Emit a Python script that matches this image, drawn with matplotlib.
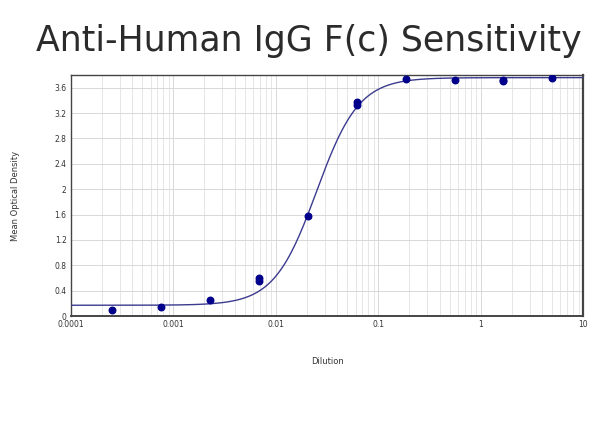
import numpy as np
import matplotlib.pyplot as plt
from matplotlib.ticker import LogLocator

# measured points (dilution, mean OD)
dilution = [0.000254, 0.000762, 0.00229, 0.00686, 0.00686, 0.0206,
            0.0617, 0.0617, 0.185, 0.556, 1.667, 1.667, 5.0]
od = [0.095, 0.14, 0.25, 0.55, 0.60, 1.58,
      3.38, 3.33, 3.74, 3.72, 3.70, 3.73, 3.76]

# 4PL fit parameters
fit_bottom = 0.17
fit_top = 3.76
fit_ec50 = 0.025
fit_hill = 2.1

yticks = [0, 0.4, 0.8, 1.2, 1.6, 2, 2.4, 2.8, 3.2, 3.6]
xticks = [0.0001, 0.001, 0.01, 0.1, 1, 10]
xticklabels = ['0.0001', '0.001', '0.01', '0.1', '1', '10']

fig = plt.figure(figsize=(6, 4.47), dpi=100)
ax = fig.add_axes([0.118, 0.293, 0.854, 0.539])

xx = np.logspace(-4, 1, 400)
yy = fit_top + (fit_bottom - fit_top) / (1 + (xx / fit_ec50) ** fit_hill)
ax.plot(xx, yy, color='#3b3b8f', lw=1.0, zorder=3)
ax.scatter(dilution, od, s=22, color='#00008b', zorder=4)

ax.set_xscale('log')
ax.set_xlim(0.0001, 10)
ax.set_ylim(0, 3.8)
ax.set_xticks(xticks)
ax.set_xticklabels(xticklabels)
ax.set_yticks(yticks)
ax.set_yticklabels([str(t) for t in yticks])
ax.xaxis.set_minor_locator(LogLocator(base=10, subs=np.arange(2, 10), numticks=20))
ax.tick_params(which='both', length=0, labelsize=5.5, colors='#333333', pad=3)
ax.grid(True, which='major', color='#d8d8d8', lw=0.7)
ax.grid(True, which='minor', axis='x', color='#e2e2e2', lw=0.6)
ax.set_axisbelow(True)
for s in ax.spines.values():
    s.set_color('#444444')
    s.set_linewidth(1.0)
ax.spines['right'].set_linewidth(1.6)
ax.spines['bottom'].set_linewidth(1.4)

ax.set_xlabel('Dilution', fontsize=6, color='#333333', labelpad=20)
ax.set_ylabel('Mean Optical Density', fontsize=6, color='#333333', labelpad=25)

fig.text(0.515, 0.908, 'Anti-Human IgG F(c) Sensitivity', ha='center', va='center',
         fontsize=25, color='#2b2b2b')

fig.savefig('out.png', dpi=100)
